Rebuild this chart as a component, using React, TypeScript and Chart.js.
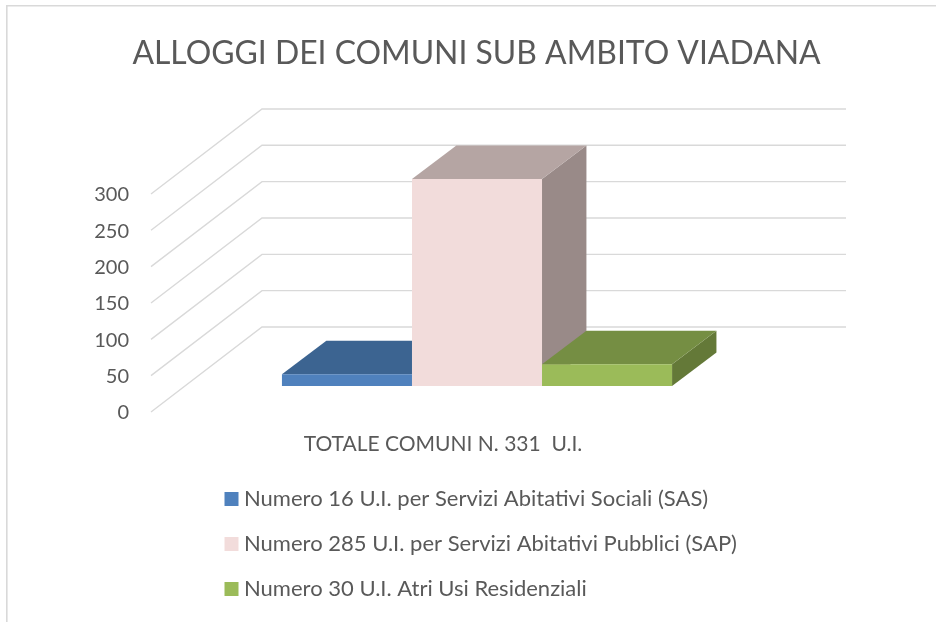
import React, { useEffect, useRef } from "react";
import { Chart, registerables } from "chart.js";

Chart.register(...registerables);

const titleText = "ALLOGGI DEI COMUNI SUB AMBITO VIADANA";
const categories = ["TOTALE COMUNI N. 331  U.I."];
const seriesNames = [
  "Numero 16 U.I. per Servizi Abitativi Sociali (SAS)",
  "Numero 285 U.I. per Servizi Abitativi Pubblici (SAP)",
  "Numero 30 U.I. Atri Usi Residenziali",
];
const sasValues = [16];
const sapValues = [285];
const otherValues = [30];
const seriesValues = [sasValues, sapValues, otherValues];
const yTickMin = 0;
const yTickMax = 300;
const yTickStep = 50;

const frontColors = ["#4F81BD", "#F2DCDB", "#9BBB59"];
const topColors = ["#3C6491", "#B5A5A3", "#758E43"];
const sideColors = ["#335580", "#998A88", "#647938"];

const TEXT = "#595959";
const GRID = "#D9D9D9";
const FONT = "Lato, 'Open Sans', sans-serif";

const WALL_DX = 111;
const WALL_DY = -85;
const BAR_SHIFT_X = 34;
const BAR_SHIFT_Y = -26;
const BAR_DEPTH_X = 44.4;
const BAR_DEPTH_Y = -33.5;

const poly = (ctx: CanvasRenderingContext2D, pts: number[][], fill: string) => {
  ctx.beginPath();
  pts.forEach(([x, y], i) => (i ? ctx.lineTo(x, y) : ctx.moveTo(x, y)));
  ctx.closePath();
  ctx.fillStyle = fill;
  ctx.fill();
};

const scene3d = {
  id: "scene3d",
  beforeDraw(chart: any) {
    const { ctx } = chart;
    ctx.save();
    ctx.strokeStyle = GRID;
    ctx.lineWidth = 1.6;
    ctx.beginPath();
    ctx.moveTo(936, 5.7);
    ctx.lineTo(6.8, 5.7);
    ctx.lineTo(6.8, 622);
    ctx.stroke();
    ctx.restore();
    // legend stacked and title centred like the original
    const legend = chart.legend;
    legend.left = 207;
    legend.right = 936;
    legend.top = 465;
    legend.bottom = 900;
    chart.titleBlock.left = 0;
    chart.titleBlock.right = 953;
  },
  beforeDatasetsDraw(chart: any) {
    const { ctx, scales } = chart;
    const yScale = scales.y;
    const { left, right } = chart.chartArea;
    ctx.save();
    ctx.strokeStyle = GRID;
    ctx.lineWidth = 1.4;
    yScale.ticks.forEach((t: any) => {
      const py = yScale.getPixelForValue(t.value);
      ctx.beginPath();
      ctx.moveTo(left, py);
      ctx.lineTo(left + WALL_DX, py + WALL_DY);
      ctx.lineTo(right + WALL_DX, py + WALL_DY);
      ctx.stroke();
    });
    ctx.restore();
    // depth faces, left to right; the library then paints the front faces over them
    seriesNames.forEach((_, i) => {
      const bar = chart.getDatasetMeta(i).data[0];
      const l = bar.x - bar.width / 2 + BAR_SHIFT_X;
      const r = bar.x + bar.width / 2 + BAR_SHIFT_X;
      const t = bar.y + BAR_SHIFT_Y;
      const b = bar.base + BAR_SHIFT_Y;
      poly(ctx, [[r, t], [r + BAR_DEPTH_X, t + BAR_DEPTH_Y], [r + BAR_DEPTH_X, b + BAR_DEPTH_Y], [r, b]], sideColors[i]);
      poly(ctx, [[l, t], [l + BAR_DEPTH_X, t + BAR_DEPTH_Y], [r + BAR_DEPTH_X, t + BAR_DEPTH_Y], [r, t]], topColors[i]);
    });
  },
  beforeDatasetDraw(chart: any) {
    chart.ctx.save();
    chart.ctx.translate(BAR_SHIFT_X, BAR_SHIFT_Y);
  },
  afterDatasetDraw(chart: any) {
    chart.ctx.restore();
  },
};

export default function App() {
  const ref = useRef<HTMLCanvasElement>(null);
  useEffect(() => {
    const chart = new Chart(ref.current as HTMLCanvasElement, {
      type: "bar",
      plugins: [scene3d],
      data: {
        labels: categories,
        datasets: seriesNames.map((label, i) => ({
          label,
          data: seriesValues[i],
          backgroundColor: frontColors[i],
          borderWidth: 0,
          clip: false as any,
          categoryPercentage: 0.668,
          barPercentage: 1,
        })),
      },
      options: {
        animation: false,
        responsive: false,
        layout: { padding: { left: 17, right: 201, top: 0, bottom: 160 } },
        plugins: {
          tooltip: { enabled: false },
          title: {
            display: true,
            text: titleText,
            color: TEXT,
            font: { family: FONT, size: 31.9, weight: "normal" },
            padding: { top: 35, bottom: 120.7 },
          },
          legend: {
            position: "chartArea",
            align: "start",
            labels: {
              color: TEXT,
              font: { family: FONT, size: 22 },
              boxWidth: 3,
              boxHeight: 3,
              padding: 23,
              generateLabels: () =>
                seriesNames.map((text, i) => ({
                  text,
                  fillStyle: frontColors[i],
                  strokeStyle: frontColors[i],
                  lineWidth: 11,
                  fontColor: TEXT,
                  datasetIndex: i,
                  hidden: false,
                })),
            },
          },
        },
        scales: {
          x: {
            grid: { display: false, drawTicks: false },
            border: { display: false },
            ticks: { color: TEXT, font: { family: FONT, size: 21 }, padding: 20 },
            afterFit: (s: any) => {
              s.height = 50;
            },
          },
          y: {
            min: yTickMin,
            max: yTickMax,
            grid: { display: false, drawTicks: false },
            border: { display: false },
            ticks: { stepSize: yTickStep, color: TEXT, font: { family: FONT, size: 20 }, padding: 22, labelOffset: 1 },
            afterFit: (s: any) => {
              s.width = 134;
            },
          },
        },
      } as any,
    });
    return () => chart.destroy();
  }, []);
  return (
    <div style={{ position: "absolute", left: 0, top: 0, width: 936, height: 622, background: "#fff" }}>
      <canvas ref={ref} width={936} height={622} style={{ display: "block" }} />
    </div>
  );
}
